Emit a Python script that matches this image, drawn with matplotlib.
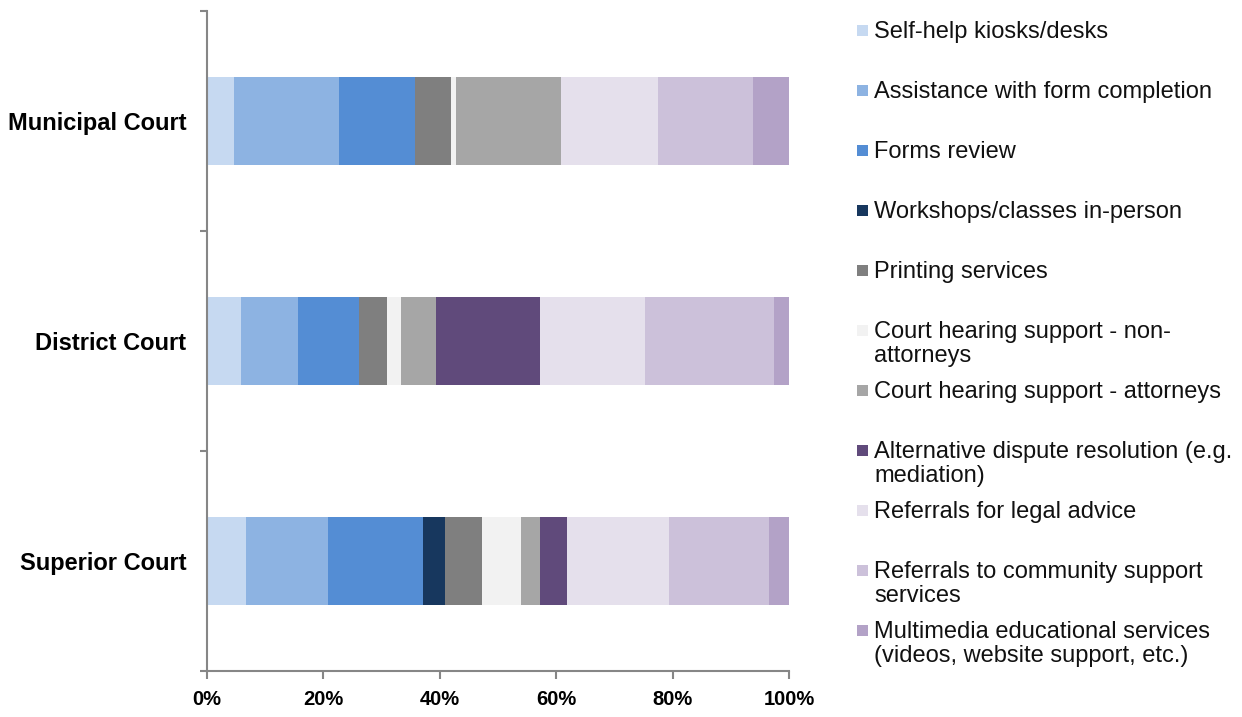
import numpy as np
import matplotlib.pyplot as plt
from matplotlib.patches import Rectangle

plt.rcParams['font.family'] = ['Liberation Sans', 'DejaVu Sans']

courts = ["Superior Court", "District Court", "Municipal Court"]
services = [
    "Self-help kiosks/desks",
    "Assistance with form completion",
    "Forms review",
    "Workshops/classes in-person",
    "Printing services",
    "Court hearing support - non-\nattorneys",
    "Court hearing support - attorneys",
    "Alternative dispute resolution (e.g.\nmediation)",
    "Referrals for legal advice",
    "Referrals to community support\nservices",
    "Multimedia educational services\n(videos, website support, etc.)",
]
colors = ["#C6D9F1", "#8DB3E2", "#548DD4", "#17375E", "#7F7F7F", "#F2F2F2",
          "#A6A6A6", "#604A7B", "#E5E0EC", "#CCC1DA", "#B3A2C7"]

# percent share per service, order: Superior, District, Municipal
superior = [6.7, 14.1, 16.3, 3.8, 6.4, 6.7, 3.3, 4.6, 17.5, 17.2, 3.4]
district = [5.8, 9.8, 10.5, 0.0, 4.9, 2.3, 6.1, 17.8, 18.0, 22.3, 2.5]
municipal = [4.7, 17.9, 13.1, 0.0, 6.2, 0.8, 18.2, 0.0, 16.6, 16.4, 6.1]

data = np.array([superior, district, municipal])
data = data / data.sum(axis=1, keepdims=True)

fig = plt.figure(figsize=(12.42, 7.17), dpi=100)
ax = fig.add_axes([207/1242, 1-671/717, (789-207)/1242, 660/717])

y = np.arange(len(courts))
left = np.zeros(len(courts))
for i, name in enumerate(services):
    ax.barh(y, data[:, i], left=left, height=0.4, color=colors[i],
            edgecolor="none", label=name)
    left += data[:, i]

axis_grey = "#868686"
ax.set_xlim(0, 1)
ax.set_ylim(-0.5, 2.5)
ax.set_xticks(np.linspace(0, 1, 6))
ax.set_xticklabels([f"{int(v*100)}%" for v in np.linspace(0, 1, 6)],
                   fontsize=14.5, fontweight="bold")
ax.tick_params(axis="x", length=6, width=1.5, color=axis_grey, pad=8)
ax.set_yticks([-0.5, 0.5, 1.5, 2.5])
ax.set_yticklabels([])
ax.tick_params(axis="y", which="major", length=5, color=axis_grey, width=1.5)
ax.set_yticks(y, minor=True)
ax.set_yticklabels(courts, minor=True, fontsize=17, fontweight="bold")
ax.tick_params(axis="y", which="minor", length=0, pad=15)
for s in ["top", "right"]:
    ax.spines[s].set_visible(False)
for s in ["left", "bottom"]:
    ax.spines[s].set_color(axis_grey)
    ax.spines[s].set_linewidth(1.5)

# legend, Excel style fixed slots
fs = 17
for i, name in enumerate(services):
    yc = 30 + 60*i
    fig.patches.append(Rectangle((857/1242, 1-(yc+5.5)/717), 11/1242, 11/717,
                                 transform=fig.transFigure, facecolor=colors[i],
                                 edgecolor="none"))
    fig.text(874/1242, 1-(yc-9)/717, name, fontsize=fs, va="top", ha="left",
             linespacing=1.13, color="#111111")

fig.savefig("out.png", dpi=100)
